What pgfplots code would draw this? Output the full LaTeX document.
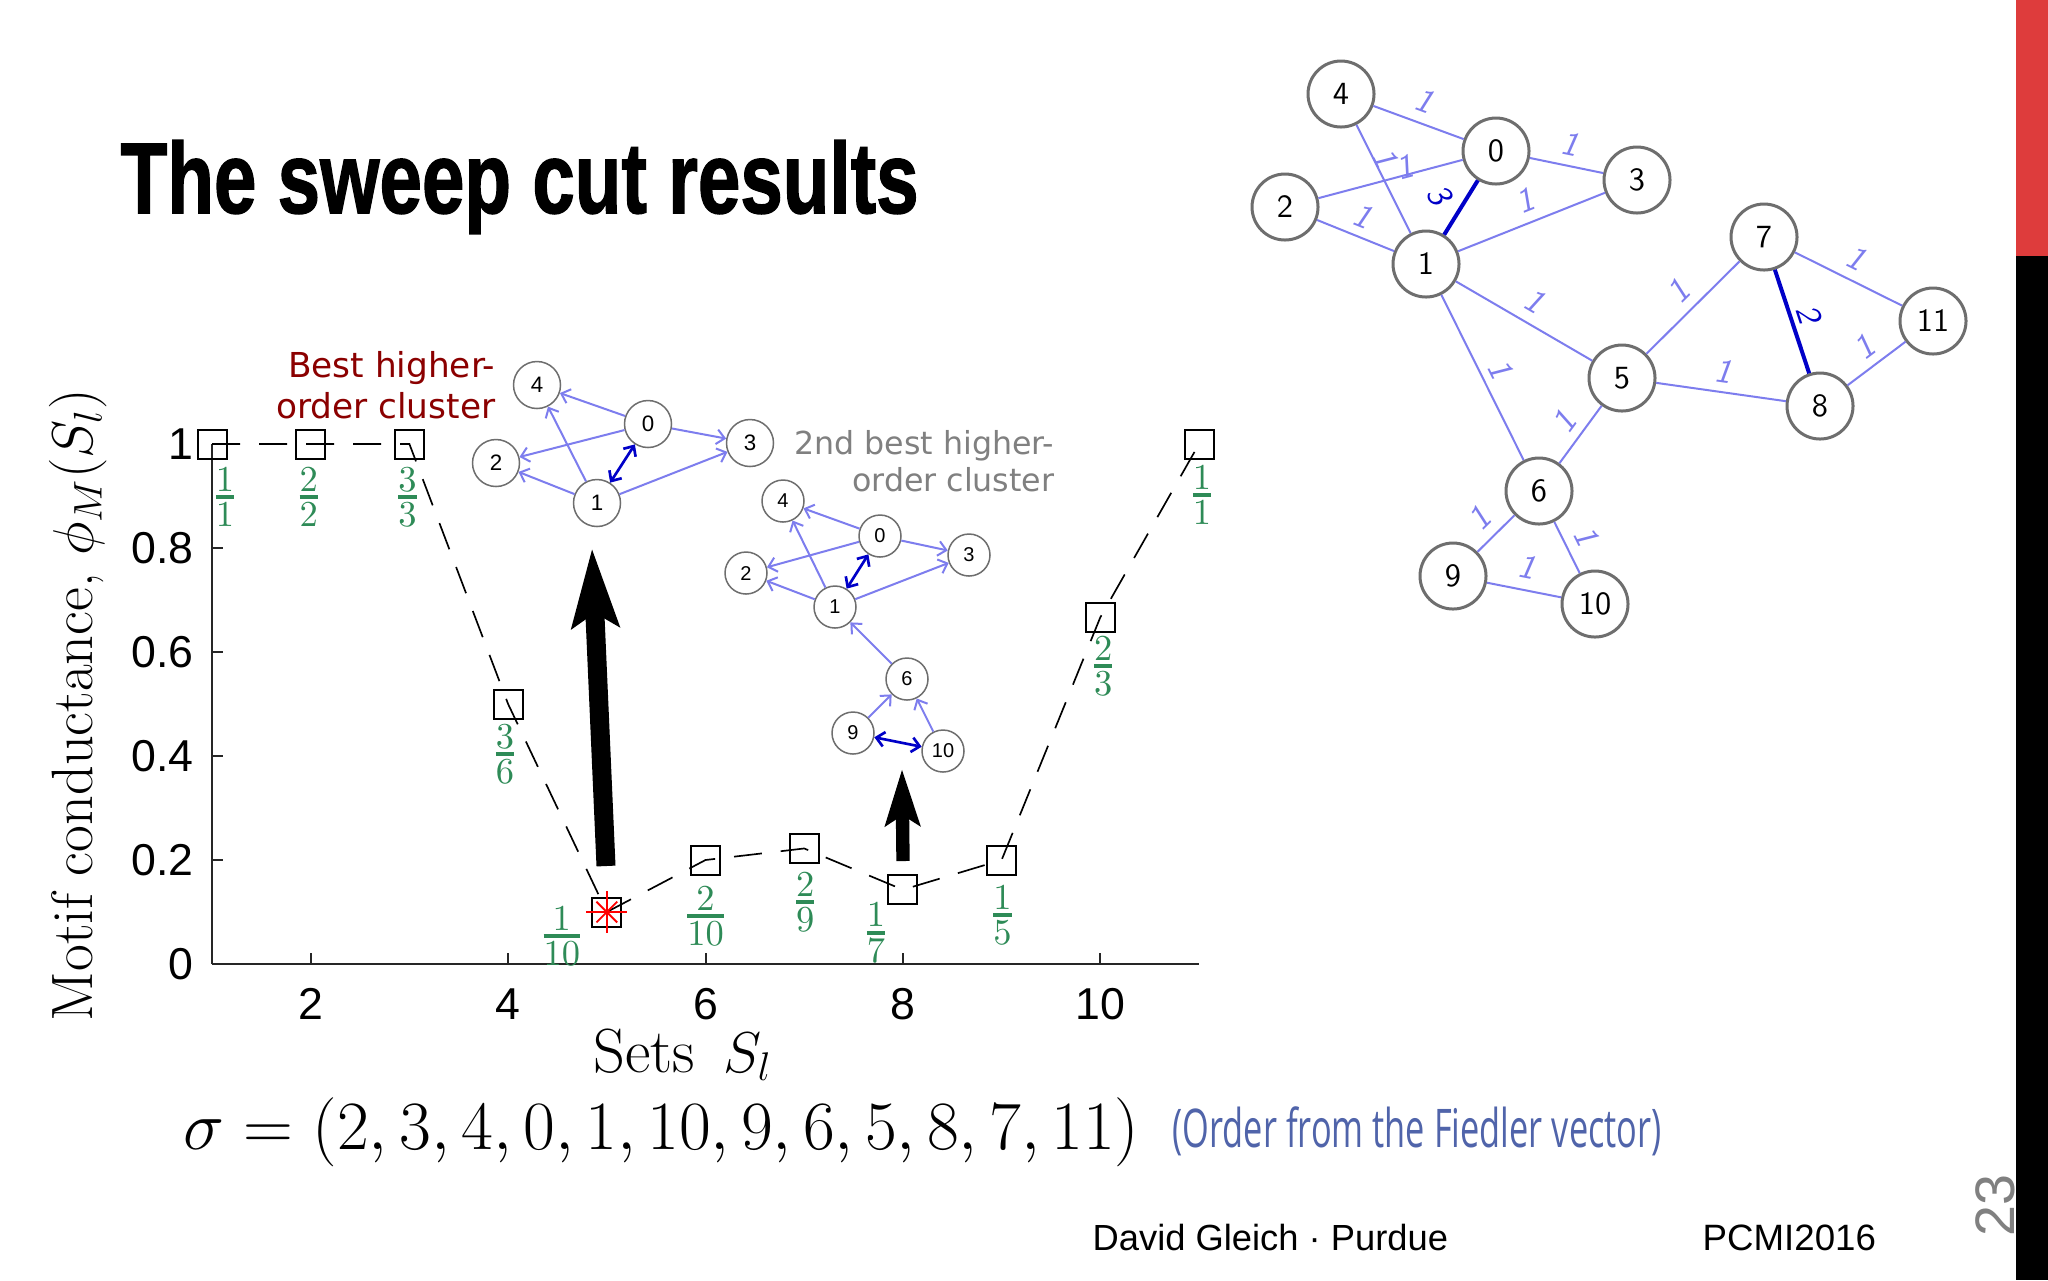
\documentclass[border=0pt]{standalone}
\usepackage{amsmath}
\usepackage{fontspec}
\usepackage{graphicx}
\usepackage{pgfplots}
\pgfplotsset{compat=1.18}
\usetikzlibrary{arrows.meta}
\newfontfamily\helv{Liberation Sans}
\newfontfamily\titlefont{Liberation Sans}[BoldFeatures={FakeBold=1.5}]
\newfontfamily\dejavu{DejaVu Sans}
\newfontfamily\fiedfont{Open Sans}
\definecolor{fracgreen}{RGB}{46,139,87}
\definecolor{edgeblue}{RGB}{125,125,238}
\definecolor{darkblue}{RGB}{0,0,200}
\definecolor{nodegray}{RGB}{110,110,110}
\definecolor{barred}{RGB}{222,60,60}
\definecolor{clusterred}{RGB}{139,0,0}
\definecolor{fiedblue}{RGB}{80,100,170}
\newcommand\fr[2]{$\genfrac{}{}{1.2pt}{1}{\textstyle #1}{\textstyle #2}$}
\tikzset{
  bnode/.style={circle, draw=nodegray, line width=0.9pt, fill=white, minimum size=19.8pt, inner sep=0pt, font=\sffamily\fontsize{9.7}{10}\selectfont},
  inode/.style={circle, draw=nodegray, line width=0.45pt, fill=white, minimum size=14.1pt, inner sep=0pt, font=\helv\fontsize{6.7}{7}\selectfont},
  inodeb/.style={inode, minimum size=12.6pt, font=\helv\fontsize{6}{7}\selectfont},
  wlab/.style={inner sep=0pt, text=edgeblue, font=\sffamily\slshape\fontsize{10.2}{11}\selectfont},
  ledge/.style={edgeblue, line width=0.6pt},
  dedge/.style={darkblue, line width=1.2pt},
  larr/.style={ledge, -{Straight Barb[length=2.4pt, width=4.4pt]}},
  darr/.style={darkblue, line width=0.8pt, {Straight Barb[length=2.4pt, width=4.4pt]}-{Straight Barb[length=2.4pt, width=4.4pt]}},
  fracnode/.style={inner sep=0pt, text=fracgreen, font=\fontsize{10.8}{12}\selectfont},
  txt/.style={inner sep=0pt}
}
\begin{document}
\begin{tikzpicture}
\useasboundingbox (0,0) rectangle (614.4pt,384pt);
\fill[white] (0,0) rectangle (614.4pt,384pt);
\clip (0,0) rectangle (614.4pt,384pt);

% ---------------- main chart ----------------
\begin{axis}[
  at={(63.6pt,94.8pt)}, anchor=south west,
  width=296.1pt, height=156pt, scale only axis,
  xmin=1, xmax=11, ymin=0, ymax=1,
  axis lines=left, axis line style={-, line width=0.75pt, black!85},
  tick align=inside, major tick length=3.4pt,
  every tick/.style={black!85, line width=0.6pt},
  xtick={2,4,6,8,10}, ytick={0,0.2,0.4,0.6,0.8,1},
  /pgf/number format/assume math mode=true,
  tick label style={font=\helv\fontsize{13.4}{15}\selectfont, inner sep=0pt},
  xticklabel style={yshift=-7.2pt},
  yticklabel style={xshift=-5.4pt},
  clip=false,
  xlabel={Sets\hspace{0.15em} $S_l$},
  ylabel={Motif conductance, $\phi_M(S_l)$},
  every axis x label/.style={at={([yshift=-32.5pt]axis description cs:0.477,0)}, anchor=base, inner sep=0pt, font=\fontsize{18.7}{21}\selectfont},
  every axis y label/.style={at={([xshift=-35.7pt]axis description cs:0,0.498)}, anchor=base, inner sep=0pt, rotate=90, font=\fontsize{17.5}{20}\selectfont},
]
\addplot[black, line width=0.5pt, dash pattern=on 8.4pt off 5.7pt,
  mark=square, mark size=4.35pt, mark options={solid, line width=0.6pt}]
  coordinates {(1,1)(2,1)(3,1)(4,0.5)(5,0.1)(6,0.2)(7,0.2222)(8,0.1429)(9,0.2)(10,0.6667)(11,1)};
\addplot[red, only marks, mark=+, mark size=6.2pt, mark options={line width=0.55pt}] coordinates {(5,0.1)};
\addplot[red, only marks, mark=x, mark size=4.4pt, mark options={line width=0.55pt}] coordinates {(5,0.1)};
\node[fracnode, xshift=3.9pt, yshift=-15.9pt] at (1,1) {\fr11};
\node[fracnode, xshift=-0.6pt, yshift=-15.9pt] at (2,1) {\fr22};
\node[fracnode, xshift=-0.6pt, yshift=-15.9pt] at (3,1) {\fr33};
\node[fracnode, xshift=-0.9pt, yshift=-15pt] at (4,0.5) {\fr36};
\node[fracnode, xshift=-13.5pt, yshift=-7.2pt] at (5,0.1) {\fr1{10}};
\node[fracnode, xshift=0pt, yshift=-16.8pt] at (6,0.2) {\fr2{10}};
\node[fracnode, xshift=0.3pt, yshift=-16.2pt] at (7,0.2222) {\fr29};
\node[fracnode, xshift=-8.1pt, yshift=-12.9pt] at (8,0.1429) {\fr17};
\node[fracnode, xshift=0.3pt, yshift=-16.5pt] at (9,0.2) {\fr15};
\node[fracnode, xshift=0.9pt, yshift=-14.7pt] at (10,0.6667) {\fr23};
\node[fracnode, xshift=0.9pt, yshift=-15.3pt] at (11,1) {\fr11};
\end{axis}

% ---------------- slide decorations (pixel coordinates) ----------------
\begin{axis}[
  at={(0,0)}, anchor=south west,
  width=614.4pt, height=384pt, scale only axis,
  xmin=0, xmax=2048, ymin=0, ymax=1280, y dir=reverse,
  hide axis, clip=false]
% title
\node[txt, anchor=base west] at (120,213) {\resizebox{239.4pt}{\height}{\titlefont\bfseries\fontsize{30.2}{34}\selectfont The sweep cut results}};
% side bars
\fill[barred] (2016,0) rectangle (2048,256);
\fill[black] (2016,256) rectangle (2048,1280);
\node[txt, rotate=90, anchor=base west, text=black!50, font=\helv\fontsize{16.7}{18}\selectfont] at (2014,1237) {23};
% footer
\node[txt, anchor=base west, font=\helv\fontsize{10.9}{12}\selectfont] at (1092,1250) {David Gleich · Purdue};
\node[txt, anchor=base west, font=\helv\fontsize{11}{12}\selectfont] at (1702,1250) {PCMI2016};
% sigma
\node[txt, anchor=base west, font=\fontsize{21}{24}\selectfont] at (183,1149) {$\sigma = (2,3,4,0,1,10,9,6,5,8,7,11)$};
\node[txt, anchor=base west, text=fiedblue] at (1172,1147) {\resizebox{146.7pt}{\height}{\fiedfont\fontsize{16}{18}\selectfont (Order from the Fiedler vector)}};

% big graph
\node[bnode] (b4) at (1341,94) {4};
\node[bnode] (b0) at (1496,151) {0};
\node[bnode] (b3) at (1637,180) {3};
\node[bnode] (b2) at (1285,207) {2};
\node[bnode] (b1) at (1426,264) {1};
\node[bnode] (b7) at (1764,237) {7};
\node[bnode] (b11) at (1933,321) {11};
\node[bnode] (b5) at (1622,378) {5};
\node[bnode] (b8) at (1820,406) {8};
\node[bnode] (b6) at (1539,491) {6};
\node[bnode] (b9) at (1453,576) {9};
\node[bnode] (b10) at (1595,604) {10};
\draw[ledge] (b4)--(b0);
\draw[ledge] (b4)--(b1);
\draw[ledge] (b2)--(b0);
\draw[ledge] (b2)--(b1);
\draw[ledge] (b0)--(b3);
\draw[ledge] (b1)--(b3);
\draw[ledge] (b1)--(b5);
\draw[ledge] (b1)--(b6);
\draw[ledge] (b5)--(b7);
\draw[ledge] (b5)--(b8);
\draw[ledge] (b5)--(b6);
\draw[ledge] (b7)--(b11);
\draw[ledge] (b8)--(b11);
\draw[ledge] (b6)--(b9);
\draw[ledge] (b6)--(b10);
\draw[ledge] (b9)--(b10);
\draw[dedge] (b0)--(b1);
\draw[dedge] (b7)--(b8);
\node[wlab, rotate=-20.2] at (1424,101) {1};
\node[wlab, rotate=-11.6] at (1570,144) {1};
\node[wlab, rotate=-63.4] at (1386,158) {1};
\node[wlab, rotate=14.9] at (1405,167) {1};
\node[wlab, rotate=-58.2, text=darkblue] at (1439,195) {3};
\node[wlab, rotate=-22] at (1363,216) {1};
\node[wlab, rotate=21.7] at (1525,201) {1};
\node[wlab, rotate=-30.2] at (1535,301) {1};
\node[wlab, rotate=44.8] at (1678,291) {1};
\node[wlab, rotate=-71.7, text=darkblue] at (1809,314) {2};
\node[wlab, rotate=-26.4] at (1856,258) {1};
\node[wlab, rotate=37] at (1864,347) {1};
\node[wlab, rotate=-63.5] at (1501,369) {1};
\node[wlab, rotate=-8] at (1723,371) {1};
\node[wlab, rotate=53.7] at (1564,422) {1};
\node[wlab, rotate=44.7] at (1479,518) {1};
\node[wlab, rotate=-63.6] at (1587,536) {1};
\node[wlab, rotate=-11.2] at (1527,567) {1};

% cluster captions
\node[txt, anchor=base east, text=clusterred, font=\dejavu\fontsize{10.3}{12}\selectfont] at (496,377) {Best higher-};
\node[txt, anchor=base east, text=clusterred, font=\dejavu\fontsize{10.3}{12}\selectfont] at (496,418) {order cluster};
\node[txt, anchor=base east, text=black!50, font=\dejavu\fontsize{9.5}{11}\selectfont] at (1055,454) {2nd best higher-};
\node[txt, anchor=base east, text=black!50, font=\dejavu\fontsize{9.5}{11}\selectfont] at (1055,491) {order cluster};

% inset 1
\node[inode] (a4) at (537,385) {4};
\node[inode] (a0) at (648,424) {0};
\node[inode] (a3) at (750,443) {3};
\node[inode] (a2) at (496,463) {2};
\node[inode] (a1) at (597,503) {1};
\draw[larr] (a0)--(a4);
\draw[larr] (a1)--(a4);
\draw[larr] (a0)--(a2);
\draw[larr] (a1)--(a2);
\draw[larr] (a0)--(a3);
\draw[larr] (a1)--(a3);
\draw[darr] (a1)--(a0);

% inset 2
\node[inodeb] (c4) at (783,501) {4};
\node[inodeb] (c0) at (880,536) {0};
\node[inodeb] (c3) at (969,555) {3};
\node[inodeb] (c2) at (746,573) {2};
\node[inodeb] (c1) at (835,607) {1};
\node[inodeb] (c6) at (907,679) {6};
\node[inodeb] (c9) at (853,733) {9};
\node[inodeb] (c10) at (943,751) {10};
\draw[larr] (c0)--(c4);
\draw[larr] (c1)--(c4);
\draw[larr] (c0)--(c2);
\draw[larr] (c1)--(c2);
\draw[larr] (c0)--(c3);
\draw[larr] (c1)--(c3);
\draw[larr] (c6)--(c1);
\draw[larr] (c9)--(c6);
\draw[larr] (c10)--(c6);
\draw[darr] (c1)--(c0);
\draw[darr] (c9)--(c10);

% big arrows
\draw[black, line width=5.7pt, -{Stealth[length=23.4pt, width=13.8pt, inset=4pt]}] (606,866) -- (592,548);
\draw[black, line width=4pt, -{Stealth[length=16.8pt, width=10.2pt, inset=3pt]}] (903,861) -- (902,769);
\end{axis}
\end{tikzpicture}
\end{document}
